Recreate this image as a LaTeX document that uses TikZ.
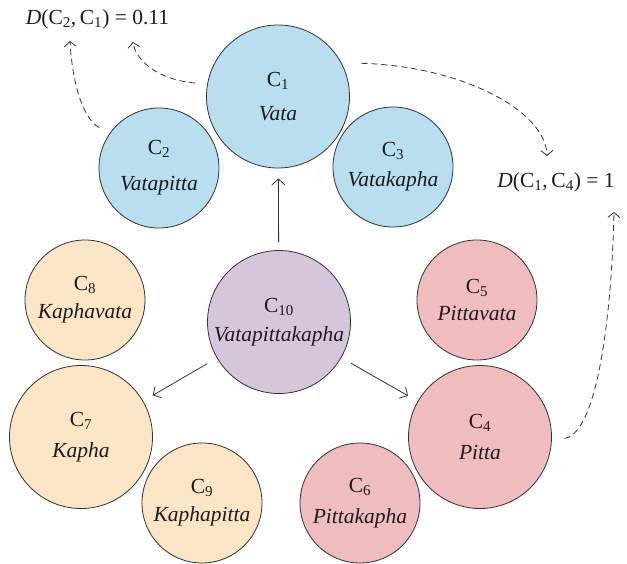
\documentclass[tikz,border=0pt]{standalone}
\usepackage{fontspec}
\setmainfont{Liberation Serif}
\usetikzlibrary{arrows.meta}
\definecolor{cblue}{RGB}{184,222,240}
\definecolor{cpurple}{RGB}{214,198,220}
\definecolor{cpink}{RGB}{239,189,189}
\definecolor{cyellow}{RGB}{250,230,198}
\definecolor{cline}{RGB}{50,50,50}
\definecolor{ctext}{RGB}{30,27,28}
\newcommand{\twolbl}[3]{C\textsubscript{#1}\\[#3]\textit{#2}}
\begin{document}
\begin{tikzpicture}[x=1pt,y=-1pt,
  font=\fontsize{21.5}{24}\selectfont, text=ctext,
  bubble/.style={circle, draw=cline, line width=0.8pt, inner sep=0pt, align=center},
  bigbub/.style={bubble, minimum size=143pt},
  smallbub/.style={bubble, minimum size=120pt},
  arr/.style={draw=cline, line width=0.8pt, -{Straight Barb[length=6pt,width=13pt]}},
  darr/.style={draw=cline, line width=0.8pt, dash pattern=on 6pt off 4pt, -{Straight Barb[length=5pt,width=12pt]}}]
\useasboundingbox (0,0) rectangle (627,563);

% circles
\node[bigbub, fill=cblue] (c1) at (278,96.5) {\twolbl{1}{Vata}{10pt}};
\node[smallbub, fill=cblue] (c2) at (159,168) {\twolbl{2}{Vatapitta}{12pt}};
\node[smallbub, fill=cblue] (c3) at (393,167) {\twolbl{3}{Vatakapha}{6pt}};
\node[bigbub, fill=cpurple] (c10) at (279,322) {\twolbl{10}{Vatapittakapha}{5pt}};
\node[smallbub, fill=cyellow] (c8) at (85,300) {\twolbl{8}{Kaphavata}{4pt}};
\node[smallbub, fill=cpink] (c5) at (477,300) {\twolbl{5}{Pittavata}{3pt}};
\node[bigbub, fill=cyellow] (c7) at (81,437) {\twolbl{7}{Kapha}{7pt}};
\node[bigbub, fill=cpink] (c4) at (480,437) {\twolbl{4}{Pitta}{7pt}};
\node[smallbub, fill=cyellow] (c9) at (202,503) {\twolbl{9}{Kaphapitta}{4pt}};
\node[smallbub, fill=cpink] (c6) at (360,503) {\twolbl{6}{Pittakapha}{7pt}};

% distance labels
\node (d21) at (97.5,19) {\textit{D}(C\textsubscript{2},\,C\textsubscript{1}) = 0.11};
\node (d14) at (556,182) {\textit{D}(C\textsubscript{1},\,C\textsubscript{4}) = 1};
\coordinate (t21a) at (70,41);
\coordinate (t21b) at (133,42);
\coordinate (t14a) at (547,156);
\coordinate (t14b) at (614,212);

% solid arrows
\draw[arr, shorten <=8pt, shorten >=10pt] (c10) -- (c1);
\draw[arr, shorten <=11pt, shorten >=11pt] (c10) -- (c7);
\draw[arr, shorten <=11pt, shorten >=11pt] (c10) -- (c4);

% dashed arrows
\draw[darr, shorten <=12pt] (c2.145) .. controls (82,118) and (72,80) .. (t21a);
\draw[darr, shorten <=12pt] (c1.170) .. controls (160,80) and (136,62) .. (t21b);
\draw[darr, shorten <=20pt] (c1.28) .. controls (460,66) and (546,110) .. (t14a);
\draw[darr, shorten <=13pt] (c4.-3) .. controls (600,432) and (612,300) .. (t14b);
\end{tikzpicture}
\end{document}
